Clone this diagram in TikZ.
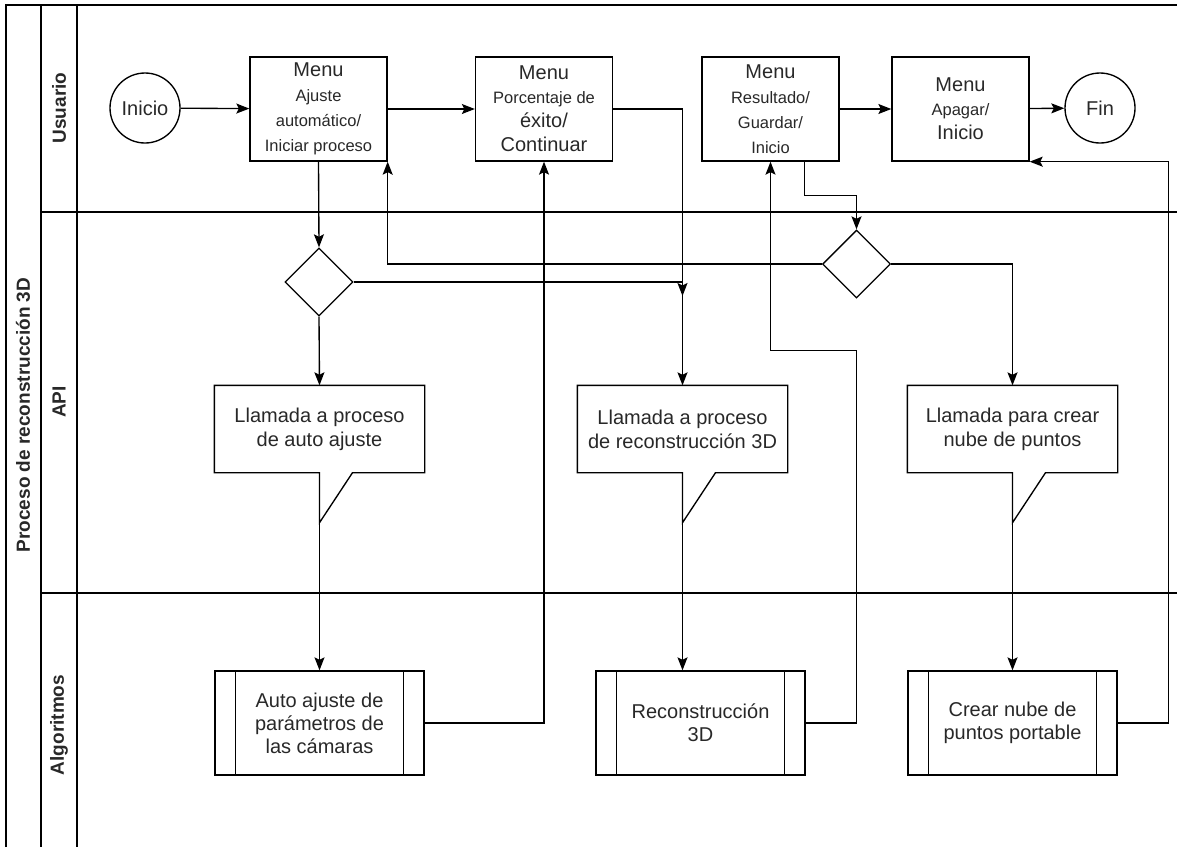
\documentclass[tikz,border=0pt]{standalone}
\usepackage{fontspec}
\setmainfont{Liberation Sans}
\usetikzlibrary{shapes.geometric, arrows.meta, calc}
\definecolor{ink}{RGB}{40,40,40}
\newcommand{\bigf}{\fontsize{20}{24}\selectfont}
\newcommand{\smallf}{\fontsize{16.5}{24}\selectfont}

\begin{document}
\begin{tikzpicture}[x=1pt, y=-1pt, line width=1.35pt,
    >={Stealth[length=13pt, width=10pt, inset=2.5pt]},
    menubox/.style={draw, minimum width=137pt, minimum height=104pt, inner sep=0pt, align=center, text=ink, font=\smallf},
    terminal/.style={draw, circle, minimum size=70pt, inner sep=0pt, text=ink, font=\bigf},
    decision/.style={draw, diamond, minimum width=68pt, minimum height=68pt, inner sep=0pt},
    calltext/.style={minimum width=209pt, minimum height=86pt, inner sep=0pt, align=center, text=ink, font=\bigf},
    subproc/.style={draw, minimum width=209pt, minimum height=104pt, inner sep=0pt, align=center, text=ink, font=\fontsize{20}{23}\selectfont},
    lanetitle/.style={rotate=90, font=\bfseries\fontsize{19}{22}\selectfont, text=ink}]
    \useasboundingbox (0,0) rectangle (1177,847);

    % pool and lanes
    \draw (6,847) -- (6,5) -- (1177,5);
    \draw (41,5) -- (41,847);
    \draw (77,5) -- (77,847);
    \draw (41,212) -- (1177,212);
    \draw (41,593) -- (1177,593);
    \node[lanetitle] (pool) at (23,415) {Proceso de reconstrucción 3D};
    \node[lanetitle] (usuario) at (59,108) {Usuario};
    \node[lanetitle] (api) at (59,402) {API};
    \node[lanetitle] (algo) at (59,725) {Algoritmos};

    % Usuario
    \node[terminal] (inicio) at (145,108) {Inicio};
    \node[menubox, font=\fontsize{16.5}{25}\selectfont] (box1) at (318.5,109)
        {{\bigf Menu}\\Ajuste\\automático/\\Iniciar proceso};
    \node[menubox] (box2) at (544,109)
        {{\bigf Menu}\\Porcentaje de\\{\bigf éxito/}\\{\bigf Continuar}};
    \node[menubox, font=\fontsize{16.5}{25}\selectfont] (box3) at (770.5,109)
        {{\bigf Menu}\\Resultado/\\Guardar/\\Inicio};
    \node[menubox] (box4) at (960.5,109)
        {{\bigf Menu}\\Apagar/\\{\bigf Inicio}};
    \node[terminal] (fin) at (1100,108) {Fin};

    % API
    \node[decision] (dec1) at (319,282) {};
    \node[decision] (dec2) at (856.5,264) {};
    \node[calltext] (call1) at (319.5,429) {Llamada a proceso\\de auto ajuste};
    \node[calltext] (call2) at (682.5,429) {Llamada a proceso\\de reconstrucción 3D};
    \node[calltext] (call3) at (1012.5,429) {Llamada para crear\\nube de puntos};
    \foreach \c in {call1,call2,call3}
        \draw (\c.south west) |- (\c.north east) |- ($(\c.south)+(33,0)$)
            -- ($(\c.south)+(0,50)$) coordinate (\c-tip) -- (\c.south) -- cycle;

    % Algoritmos
    \node[subproc] (proc1) at (319.5,723) {Auto ajuste de\\parámetros de\\las cámaras};
    \node[subproc] (proc2) at (700.5,723) {Reconstrucción\\3D};
    \node[subproc] (proc3) at (1012.5,723) {Crear nube de\\puntos portable};
    \foreach \p in {proc1,proc2,proc3} {
        \draw ($(\p.north west)+(21,0)$) -- ($(\p.south west)+(21,0)$);
        \draw ($(\p.north east)+(-21,0)$) -- ($(\p.south east)+(-21,0)$);
    }

    % flow
    \coordinate (merge) at (682.5,296);
    \draw[->] (inicio) -- (box1);
    \draw[->] (box1) -- (box2);
    \draw[->] (box3) -- (box4);
    \draw[->] (box4) -- (fin);
    \draw[->] (box1.south) -- (dec1.north);
    \draw[->] (dec1.south) -- (call1.north);
    \draw[->] (dec1.east) -| (call2.north);
    \draw[->] (box2.east) -| (merge);
    \draw[->] (dec2.west) -| (box1.south east);
    \draw[->] ($(box3.south)+(34,0)$) -- ++(0,34) -| (dec2.north);
    \draw[->] (dec2.east) -| (call3.north);
    \draw[->] (call1-tip) -- (proc1.north);
    \draw[->] (call2-tip) -- (call2-tip |- proc2.north);
    \draw[->] (call3-tip) -- (proc3.north);
    \draw[->] (proc1.east) -| (box2.south);
    \draw[->] (proc2.east) -| ($(dec2.south)+(0,52)$) -| (box3.south);
    \draw[->] (proc3.east) -- ++(51,0) |- (box4.south east);
\end{tikzpicture}
\end{document}
